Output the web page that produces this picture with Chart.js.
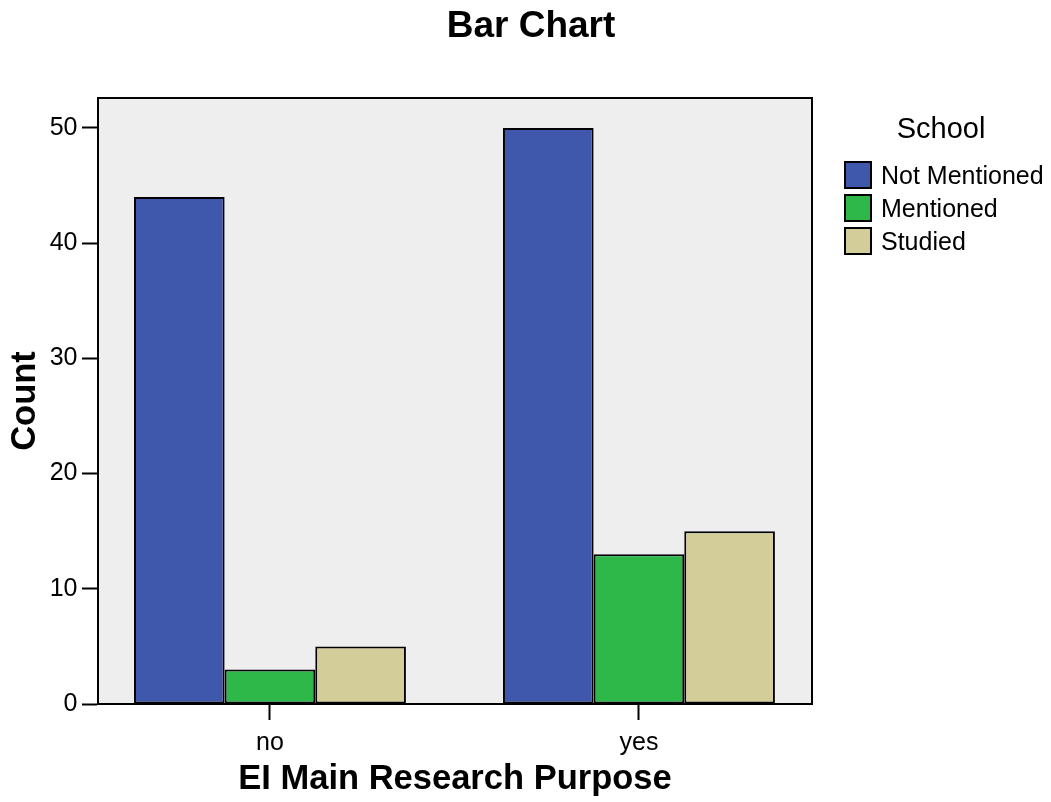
<!DOCTYPE html>
<html>
<head>
<meta charset="utf-8">
<title>Bar Chart</title>
<script src="https://cdn.jsdelivr.net/npm/chart.js@4.4.1/dist/chart.umd.min.js"></script>
<style>
    body { margin: 0; background: #ffffff; }
    .container { width: 1051px; height: 802px; }
</style>
</head>
<body>
<div class="container">
    <canvas id="barChart" width="1051" height="802"></canvas>
</div>
<script>
// values
const categories = ["no", "yes"];
const seriesNames = ["Not Mentioned", "Mentioned", "Studied"];
const notMentioned = [44, 50];
const mentioned = [3, 13];
const studied = [5, 15];
const yTicks = [0, 10, 20, 30, 40, 50];

const seriesColors = ["#3f58ab", "#2fb84a", "#d3ce99"];
const fontFamily = "'Liberation Sans', Arial, Helvetica, sans-serif";

document.addEventListener("DOMContentLoaded", function () {
    Chart.defaults.font.family = fontFamily;
    Chart.defaults.color = "#000000";

    function toPoints(values) {
        return values.map((v, i) => ({ x: i, y: v }));
    }

    const datasets = [notMentioned, mentioned, studied].map((values, i) => {
        return {
            label: seriesNames[i],
            data: toPoints(values),
            backgroundColor: seriesColors[i],
            borderColor: "#000000",
            borderWidth: 2,
            borderSkipped: false,
            categoryPercentage: 0.737,
            barPercentage: 1.0
        };
    });

    // grey plot background, white page, frame round the plot
    const plotBackground = {
        id: "plotBackground",
        beforeDraw(chart) {
            const ctx = chart.ctx;
            const a = chart.chartArea;
            ctx.save();
            ctx.fillStyle = "#ffffff";
            ctx.fillRect(0, 0, chart.width, chart.height);
            ctx.fillStyle = "#eeeeee";
            ctx.fillRect(a.left, a.top, a.right - a.left, a.bottom - a.top);
            ctx.restore();
        },
        afterDatasetsDraw(chart) {
            const ctx = chart.ctx;
            const a = chart.chartArea;
            ctx.save();
            ctx.strokeStyle = "#000000";
            ctx.lineWidth = 2;
            ctx.strokeRect(a.left, a.top, a.right - a.left, a.bottom - a.top);
            ctx.restore();
        }
    };

    // page title and the legend on the right (SPSS style, with a title)
    const sideLegend = {
        id: "sideLegend",
        afterDraw(chart) {
            const ctx = chart.ctx;
            ctx.save();
            ctx.fillStyle = "#000000";
            ctx.textBaseline = "middle";
            ctx.textAlign = "center";
            ctx.font = "bold 37px " + fontFamily;
            ctx.fillText("Bar Chart", 531, 27);
            ctx.font = "29px " + fontFamily;
            ctx.fillText("School", 941, 130);
            ctx.textAlign = "left";
            ctx.font = "25px " + fontFamily;
            chart.data.datasets.forEach((ds, i) => {
                const top = 162 + i * 33;
                ctx.fillStyle = ds.backgroundColor;
                ctx.fillRect(845, top, 26, 26);
                ctx.strokeStyle = "#000000";
                ctx.lineWidth = 2;
                ctx.strokeRect(845, top, 26, 26);
                ctx.fillStyle = "#000000";
                ctx.fillText(ds.label, 881, top + 15);
            });
            ctx.restore();
        }
    };

    const canvas = document.querySelector("#barChart");
    new Chart(canvas, {
        type: "bar",
        data: { datasets: datasets },
        options: {
            responsive: false,
            animation: false,
            layout: { padding: { left: 0, right: 239, top: 98, bottom: 0 } },
            plugins: {
                legend: { display: false },
                tooltip: { enabled: false },
                title: { display: false }
            },
            scales: {
                x: {
                    type: "linear",
                    min: -0.466,
                    max: 1.469,
                    offset: false,
                    afterBuildTicks: scale => {
                        scale.ticks = categories.map((c, i) => ({ value: i }));
                    },
                    afterFit: scale => { scale.height = 98; },
                    ticks: {
                        callback: value => categories[value],
                        font: { size: 25 },
                        color: "#000000",
                        padding: 8,
                        maxRotation: 0
                    },
                    grid: {
                        offset: false,
                        drawOnChartArea: false,
                        drawTicks: true,
                        tickLength: 16,
                        tickWidth: 2,
                        tickColor: "#000000"
                    },
                    border: { display: true, color: "#000000", width: 2 },
                    title: {
                        display: true,
                        text: "EI Main Research Purpose",
                        color: "#000000",
                        font: { size: 34.5, weight: "bold", lineHeight: 1.2 },
                        padding: { top: 0, bottom: 1.5 }
                    }
                },
                y: {
                    min: 0,
                    max: 52.6,
                    afterBuildTicks: scale => {
                        scale.ticks = yTicks.map(v => ({ value: v }));
                    },
                    afterFit: scale => { scale.width = 98; },
                    ticks: {
                        font: { size: 25 },
                        color: "#000000",
                        padding: 4.5
                    },
                    grid: {
                        drawOnChartArea: false,
                        drawTicks: true,
                        tickLength: 16,
                        tickWidth: 2,
                        tickColor: "#000000"
                    },
                    border: { display: true, color: "#000000", width: 2 },
                    title: {
                        display: true,
                        text: "Count",
                        color: "#000000",
                        font: { size: 34.5, weight: "bold", lineHeight: 1.2 },
                        padding: { top: 5, bottom: 0 }
                    }
                }
            }
        },
        plugins: [plotBackground, sideLegend]
    });
});
</script>
</body>
</html>
